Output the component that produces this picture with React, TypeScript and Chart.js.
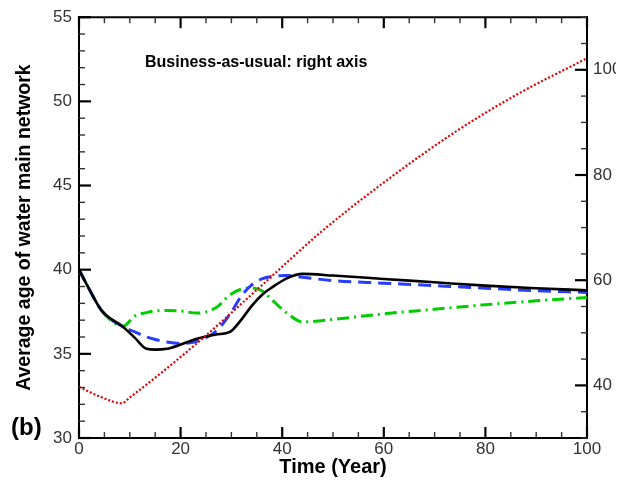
import React, { useEffect, useRef } from 'react';
import { Chart, registerables } from 'chart.js';

Chart.register(...registerables);

// Time axis (years) shared by the three renewal scenarios (left axis)
const years = [0, 2, 4.5, 8.7, 11, 13.3, 15, 17.3, 20, 23.2, 27, 29.7, 32, 34, 36, 38, 41, 44, 50, 60, 70, 80, 90, 100];
const blackSeries = [40.0, 38.85, 37.55, 36.6, 35.95, 35.3, 35.25, 35.3, 35.55, 35.9, 36.15, 36.3, 37.05, 37.85, 38.5, 38.95, 39.5, 39.75, 39.65, 39.45, 39.25, 39.05, 38.9, 38.77];
const blueSeries = [40.0, 38.85, 37.55, 36.6, 36.3, 36.0, 35.85, 35.7, 35.62, 35.75, 36.35, 37.35, 38.45, 39.1, 39.45, 39.6, 39.65, 39.55, 39.35, 39.2, 39.05, 38.9, 38.75, 38.65];
const greenSeries = [40.0, 38.85, 37.55, 36.65, 37.25, 37.45, 37.55, 37.58, 37.55, 37.42, 37.75, 38.5, 38.85, 38.92, 38.75, 38.2, 37.4, 36.9, 37.05, 37.38, 37.65, 37.92, 38.15, 38.35];

// Business-as-usual (right axis)
const bauYears = [0, 4.8, 8.4, 10, 23.2, 36.3, 47.8, 60.6, 74.4, 86.2, 100];
const bauSeries = [39.7, 37.6, 36.6, 37.7, 48.0, 59.3, 69.3, 79.0, 88.4, 95.3, 102.2];

const xTickValues = [0, 20, 40, 60, 80, 100];
const leftTickValues = [30, 35, 40, 45, 50, 55];
const rightTickValues = [40, 60, 80, 100];

const xTitle = 'Time (Year)';
const yTitle = 'Average age of water main network';
const annotation = 'Business-as-usual: right axis';
const panelLabel = '(b)';

const FONT = "'Liberation Sans', Arial, Helvetica, sans-serif";

const toPoints = (xs: number[], ys: number[]) => xs.map((x, i) => ({ x, y: ys[i] }));

const decorPlugin = {
  id: 'decor',
  afterDraw(chart: any) {
    const { ctx, chartArea } = chart;
    const { left, right, top, bottom } = chartArea;
    const x = chart.scales.x;
    const y = chart.scales.y;
    const y2 = chart.scales.y2;
    ctx.save();
    ctx.strokeStyle = '#000';
    // top frame line
    ctx.lineWidth = 2;
    ctx.beginPath();
    ctx.moveTo(left - 1, top);
    ctx.lineTo(right + 1, top);
    ctx.stroke();

    const tick = (x1: number, y1: number, x2: number, y2p: number, major: boolean) => {
      ctx.lineWidth = major ? 2.2 : 1.4;
      ctx.strokeStyle = major ? '#000' : '#333';
      ctx.beginPath();
      ctx.moveTo(x1, y1);
      ctx.lineTo(x2, y2p);
      ctx.stroke();
    };
    // x ticks bottom & top (inward)
    for (let v = 0; v <= 100; v += 5) {
      const px = x.getPixelForValue(v);
      const major = v % 20 === 0;
      const len = major ? 11 : 6;
      tick(px, bottom, px, bottom - len, major);
      tick(px, top, px, top + len, major);
    }
    // left ticks
    for (let v = 30; v <= 55; v += 1) {
      const py = y.getPixelForValue(v);
      const major = v % 5 === 0;
      const len = major ? 12 : 6;
      tick(left, py, left + len, py, major);
    }
    // right ticks
    for (let v = 30; v <= 110; v += 5) {
      const py = y2.getPixelForValue(v);
      const major = v % 20 === 0;
      const len = major ? 12 : 6;
      tick(right, py, right - len, py, major);
    }

    ctx.fillStyle = '#000';
    ctx.textAlign = 'left';
    ctx.textBaseline = 'alphabetic';
    ctx.font = `bold 16px ${FONT}`;
    ctx.fillText(annotation, 145, 67);
    ctx.font = `bold 24px ${FONT}`;
    ctx.fillText(panelLabel, 11, 435);
    ctx.restore();
  },
};

export default function App() {
  const ref = useRef<HTMLCanvasElement | null>(null);
  useEffect(() => {
    document.body.style.margin = '0';
    const canvas = ref.current;
    if (!canvas) return;
    const tickFont = { family: FONT, size: 17 };
    const chart = new Chart(canvas, {
      type: 'line',
      data: {
        datasets: [
          {
            label: 'Business-as-usual',
            data: toPoints(bauYears, bauSeries),
            yAxisID: 'y2',
            borderColor: 'rgb(228,0,0)',
            borderWidth: 2.2,
            borderDash: [2, 2],
            pointRadius: 0,
            cubicInterpolationMode: 'monotone',
            fill: false,
          },
          {
            label: 'Scenario 1',
            data: toPoints(years, blackSeries),
            yAxisID: 'y',
            borderColor: '#000',
            borderWidth: 2.6,
            pointRadius: 0,
            cubicInterpolationMode: 'monotone',
            fill: false,
          },
          {
            label: 'Scenario 2',
            data: toPoints(years, blueSeries),
            yAxisID: 'y',
            borderColor: 'rgb(40,60,255)',
            borderWidth: 3,
            borderDash: [13, 7],
            pointRadius: 0,
            cubicInterpolationMode: 'monotone',
            fill: false,
          },
          {
            label: 'Scenario 3',
            data: toPoints(years, greenSeries),
            yAxisID: 'y',
            borderColor: 'rgb(0,205,0)',
            borderWidth: 3,
            borderDash: [12, 5, 2, 5],
            pointRadius: 0,
            cubicInterpolationMode: 'monotone',
            fill: false,
          },
        ],
      },
      options: {
        responsive: false,
        animation: false,
        events: [],
        layout: { padding: { top: 16, left: 0, right: 0, bottom: 0 } },
        plugins: { legend: { display: false }, tooltip: { enabled: false }, title: { display: false } },
        scales: {
          x: {
            type: 'linear',
            min: 0,
            max: 100,
            afterFit: (s: any) => { s.height = 47; },
            afterBuildTicks: (s: any) => { s.ticks = xTickValues.map((v) => ({ value: v })); },
            grid: { display: false, drawTicks: false },
            border: { display: true, color: '#000', width: 2 },
            ticks: { font: tickFont, color: '#333', padding: 1, maxRotation: 0, autoSkip: false },
            title: { display: true, text: xTitle, color: '#000', font: { family: FONT, size: 20, weight: 'bold' }, padding: { top: 0, bottom: 6 } },
          },
          y: {
            type: 'linear',
            position: 'left',
            min: 30,
            max: 55,
            afterFit: (s: any) => { s.width = 79; },
            afterBuildTicks: (s: any) => { s.ticks = leftTickValues.map((v) => ({ value: v })); },
            grid: { display: false, drawTicks: false },
            border: { display: true, color: '#000', width: 2 },
            ticks: { font: tickFont, color: '#333', padding: 7, autoSkip: false },
            title: { display: true, text: yTitle, color: '#000', font: { family: FONT, size: 19.5, weight: 'bold' }, padding: { top: 13, bottom: 0 } },
          },
          y2: {
            type: 'linear',
            position: 'right',
            min: 30,
            max: 110,
            afterFit: (s: any) => { s.width = 39; },
            afterBuildTicks: (s: any) => { s.ticks = rightTickValues.map((v) => ({ value: v })); },
            grid: { display: false, drawTicks: false },
            border: { display: true, color: '#000', width: 2 },
            ticks: { font: tickFont, color: '#333', padding: 6, autoSkip: false },
          },
        },
      },
      plugins: [decorPlugin],
    } as any);
    return () => chart.destroy();
  }, []);
  return (
    <div style={{ width: 616, height: 485, overflow: 'hidden', background: '#fff' }}>
      <canvas ref={ref} width={626} height={485} style={{ display: 'block' }} />
    </div>
  );
}
